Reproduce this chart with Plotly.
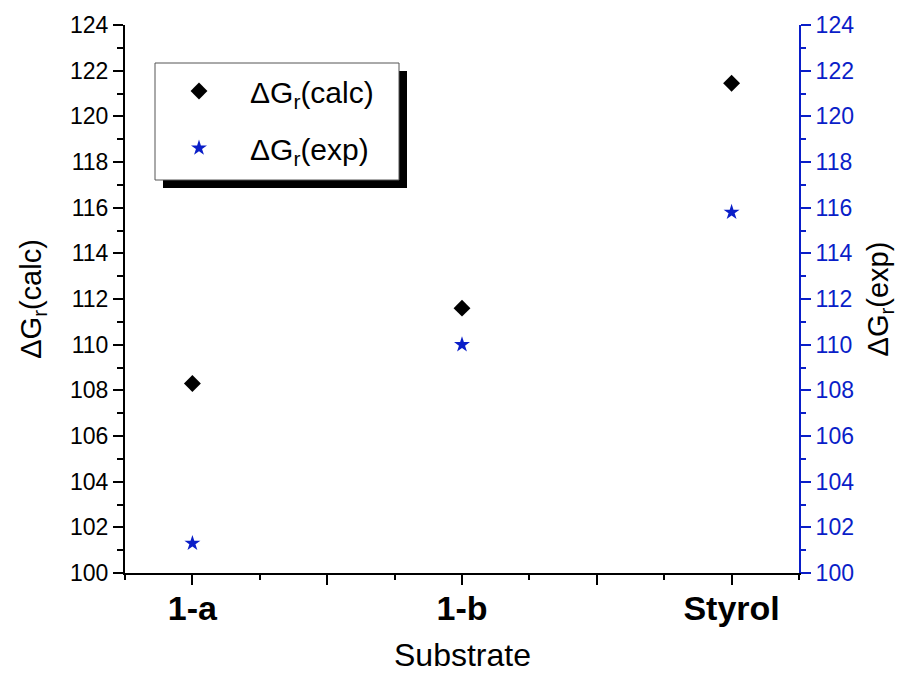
import plotly.graph_objects as go

categories = ["1-a", "1-b", "Styrol"]
cat_pos = [1, 2, 3]
dg_calc = [108.3, 111.6, 121.45]
dg_exp = [101.3, 110.0, 115.8]
y_ticks = list(range(100, 125, 2))

BLUE = "#0A1EC8"
FONT = "Liberation Sans, Arial, sans-serif"

fig = go.Figure()
fig.add_trace(go.Scatter(
    x=cat_pos, y=dg_calc, mode="markers", name="ΔG<sub>r</sub>(calc)",
    marker=dict(symbol="diamond", size=13, color="black"),
    legendgroup="a", xaxis="x", yaxis="y"))
fig.add_trace(go.Scatter(
    x=cat_pos, y=dg_exp, mode="markers", name="ΔG<sub>r</sub>(exp)",
    marker=dict(symbol="star", size=12, color=BLUE),
    legendgroup="b", xaxis="x", yaxis="y2"))

# page has an 8px body margin; figure drawn at (8, 8)
OFF = 8
W, H = 890, 666
L, R, T, B = 125 - OFF, 906 - 799 - OFF, 25 - OFF, 682 - 573 - OFF
pw, ph = W - L - R, H - T - B

def px_x(p):
    return (p - OFF - L) / pw

def px_y(p):
    return (H - B - (p - OFF)) / ph

shapes = [
    dict(type="rect", xref="paper", yref="paper",
         x0=px_x(163), x1=px_x(407), y0=px_y(188), y1=px_y(71),
         fillcolor="black", line=dict(width=0), layer="below"),
    dict(type="rect", xref="paper", yref="paper",
         x0=px_x(155), x1=px_x(399), y0=px_y(180), y1=px_y(63),
         fillcolor="white", line=dict(color="#555555", width=1), layer="below"),
]

annotations = [
    dict(text="Substrate", xref="paper", yref="paper",
         x=0.5, y=px_y(655), xanchor="center", yanchor="middle",
         showarrow=False, font=dict(size=32, family=FONT, color="black")),
]

fig.update_layout(
    width=W, height=H,
    margin=dict(l=L, r=R, t=T, b=B, autoexpand=False),
    paper_bgcolor="white", plot_bgcolor="white",
    font=dict(family=FONT, color="black"),
    showlegend=True,
    shapes=shapes,
    annotations=annotations,
    legend=dict(
        x=px_x(148), y=px_y(65), xanchor="left", yanchor="top",
        bgcolor="rgba(0,0,0,0)", borderwidth=0,
        font=dict(size=30, family=FONT, color="black"),
        traceorder="grouped", tracegroupgap=15, itemwidth=92,
    ),
    xaxis=dict(
        range=[0.75, 3.25], tickmode="array", automargin=False,
        tickvals=[1, 1.5, 2, 2.5, 3], ticktext=["1-a", "", "1-b", "", "Styrol"],
        ticks="outside", ticklen=10, tickwidth=2, tickcolor="black",
        showline=True, linecolor="black", linewidth=2,
        showgrid=False, zeroline=False, ticklabelstandoff=-6,
        tickfont=dict(size=34, family=FONT, color="black", weight="bold"),
        minor=dict(tickmode="linear", tick0=0.75, dtick=0.25, ticks="outside",
                   ticklen=5, tickwidth=2, tickcolor="black", showgrid=False),
    ),
    xaxis2=dict(
        range=[0.75, 3.25], overlaying="x", side="top", anchor="y", automargin=False,
        tickmode="array", tickvals=cat_pos, ticks="inside", ticklen=10,
        tickwidth=2, tickcolor=BLUE, showticklabels=False,
        showline=True, linecolor=BLUE, linewidth=2,
        showgrid=False, zeroline=False,
    ),
    yaxis=dict(
        range=[100, 124], tickmode="array", tickvals=y_ticks, automargin=False,
        ticks="outside", ticklen=10, tickwidth=2, tickcolor="black",
        showline=True, linecolor="black", linewidth=2,
        showgrid=False, zeroline=False,
        tickfont=dict(size=23, family=FONT, color="black"),
        minor=dict(tickmode="linear", tick0=100, dtick=1, ticks="outside",
                   ticklen=6, tickwidth=2, tickcolor="black", showgrid=False),
        title=dict(text="ΔG<sub>r</sub>(calc)", font=dict(size=29, family=FONT), standoff=20),
    ),
    yaxis2=dict(
        range=[100, 124], overlaying="y", side="right", anchor="x", automargin=False,
        tickmode="array", tickvals=y_ticks,
        ticks="outside", ticklen=10, tickwidth=2, tickcolor=BLUE,
        showline=True, linecolor=BLUE, linewidth=2,
        showgrid=False, zeroline=False,
        tickfont=dict(size=23, family=FONT, color=BLUE),
        minor=dict(tickmode="linear", tick0=100, dtick=1, ticks="outside",
                   ticklen=5, tickwidth=2, tickcolor=BLUE, showgrid=False),
        title=dict(text="ΔG<sub>r</sub>(exp)", font=dict(size=29, family=FONT, color="black"), standoff=16),
    ),
)

fig.write_html("out.html")
